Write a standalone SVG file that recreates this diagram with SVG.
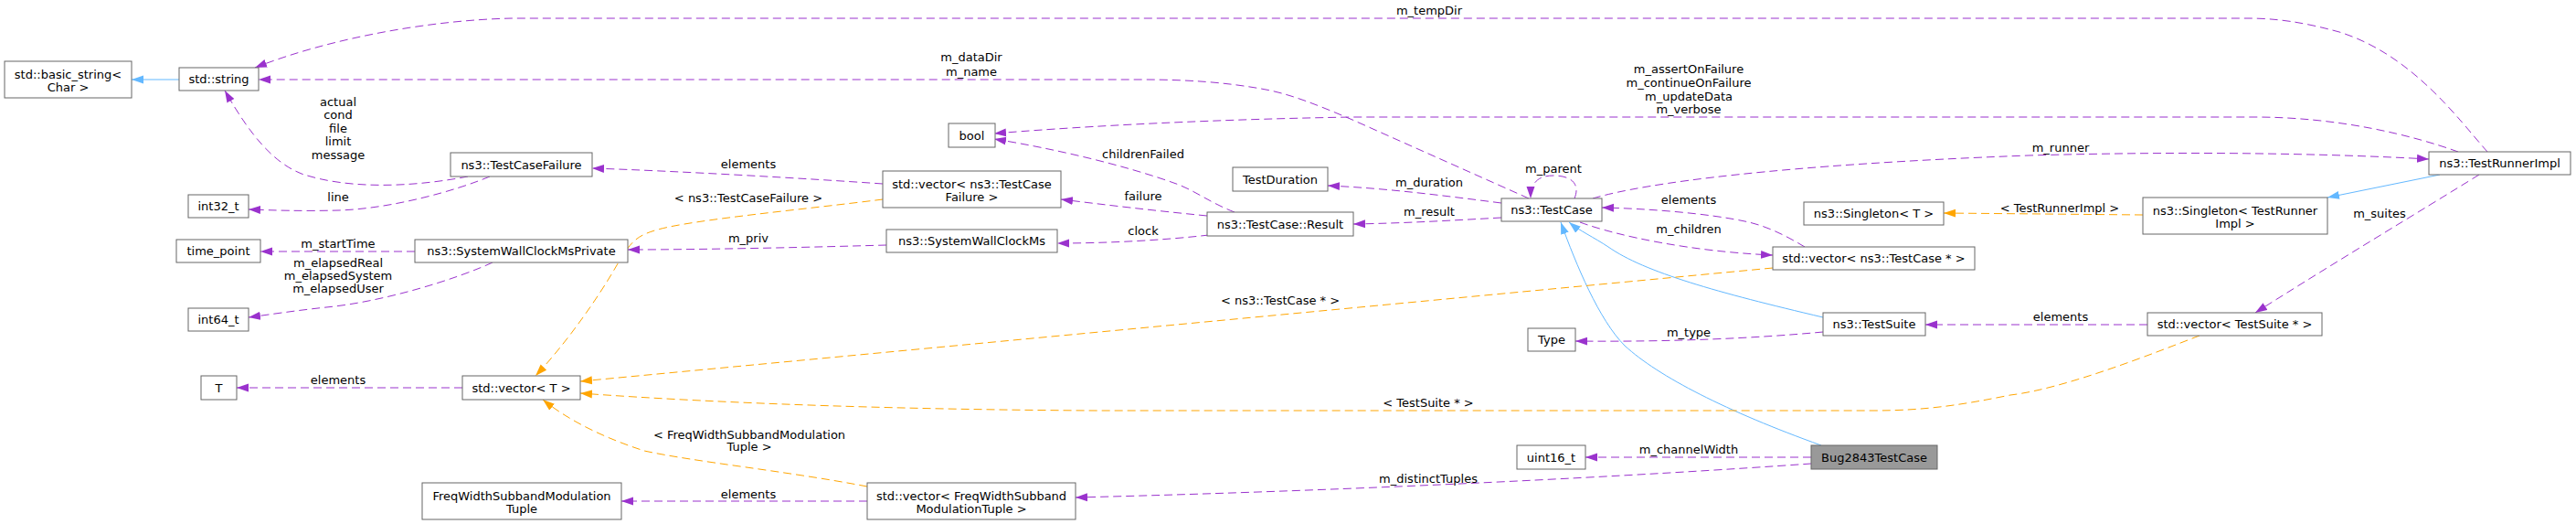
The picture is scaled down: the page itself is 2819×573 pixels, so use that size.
<svg xmlns="http://www.w3.org/2000/svg" width="2819" height="573" viewBox="0 0 2819 573">
<style>
text{font-family:"DejaVu Sans","Liberation Sans",sans-serif;font-size:13px;fill:#000;text-anchor:middle}
.node rect{fill:#fff;stroke:#666;stroke-width:1}
.node.root rect{fill:#999;stroke:#666}
.e{fill:none;stroke-width:1}
.p{stroke:#9a32cd;stroke-dasharray:9,5;marker-end:url(#ap)}
.o{stroke:#ffa500;stroke-dasharray:9,5;marker-end:url(#ao)}
.b{stroke:#63b8ff;marker-end:url(#ab)}
</style>
<defs>
<marker id="ap" viewBox="0 0 13 10" refX="13" refY="5" markerWidth="13" markerHeight="10" markerUnits="userSpaceOnUse" orient="auto"><path d="M0,0.5L13,5L0,9.5z" fill="#9a32cd"/></marker>
<marker id="ao" viewBox="0 0 13 10" refX="13" refY="5" markerWidth="13" markerHeight="10" markerUnits="userSpaceOnUse" orient="auto"><path d="M0,0.5L13,5L0,9.5z" fill="#ffa500"/></marker>
<marker id="ab" viewBox="0 0 13 10" refX="13" refY="5" markerWidth="13" markerHeight="10" markerUnits="userSpaceOnUse" orient="auto"><path d="M0,0.5L13,5L0,9.5z" fill="#63b8ff"/></marker>
</defs>
<rect width="2819" height="573" fill="#fff"/>
<g id="edges">
<path class="e b" d="M196,87L144,87"/>
<path class="e p" d="M2722,166C2690,130 2640,60 2560,35C2520,24 2490,20 2460,20L560,20C470,22 360,42 279,74"/>
<text x="1564" y="16">m_tempDir</text>
<path class="e p" d="M1673,217L1480,131C1440,114 1410,102 1380,97C1340,90 1300,87 1250,87L283,87"/>
<text x="1063" y="67">m_dataDir</text><text x="1063" y="83">m_name</text>
<path class="e p" d="M512,193C450,205 380,207 330,190C300,178 275,150 246,99"/>
<text x="370" y="115.5">actual</text><text x="370" y="130">cond</text><text x="370" y="144.5">file</text><text x="370" y="159">limit</text><text x="370" y="173.5">message</text>
<path class="e p" d="M536,193C500,208 430,228 371,230C330,231 300,230 272,229"/>
<text x="370" y="219.5">line</text>
<path class="e p" d="M454,275L285,275"/>
<text x="370" y="271">m_startTime</text>
<path class="e p" d="M539,287C500,305 420,330 357,336C320,340 295,344 272,347"/>
<text x="370" y="291.5">m_elapsedReal</text><text x="370" y="305.5">m_elapsedSystem</text><text x="370" y="319.5">m_elapsedUser</text>
<path class="e p" d="M506,424L259,424"/>
<text x="370" y="420">elements</text>
<path class="e p" d="M966,201C880,195 740,187 648,184"/>
<text x="819" y="183.5">elements</text>
<path class="e o" d="M966,218C880,229 760,240 720,251C695,258 690,265 675,290C655,325 620,375 586,411"/>
<text x="819" y="220.5">&lt; ns3::TestCaseFailure &gt;</text>
<path class="e p" d="M970,268C900,270 780,273 687,273"/>
<text x="819" y="265">m_priv</text>
<path class="e p" d="M1351,232C1325,222 1310,210 1290,202C1230,180 1150,162 1088,152"/>
<text x="1251" y="172.5">childrenFailed</text>
<path class="e p" d="M2690,166C2640,148 2560,128 2467,128L1480,128C1300,131 1160,140 1088,146"/>
<text x="1848" y="80">m_assertOnFailure</text><text x="1848" y="95">m_continueOnFailure</text><text x="1848" y="109.5">m_updateData</text><text x="1848" y="124">m_verbose</text>
<path class="e p" d="M1321,236C1260,230 1210,224 1161,218"/>
<text x="1251" y="218.5">failure</text>
<path class="e p" d="M1323,257C1270,263 1210,266 1157,266"/>
<text x="1251" y="256.5">clock</text>
<path class="e p" d="M1643,222C1580,214 1520,206 1453,203"/>
<text x="1564" y="203.5">m_duration</text>
<path class="e p" d="M1643,238C1590,241 1540,244 1481,245"/>
<text x="1564" y="235.5">m_result</text>
<path class="e p" d="M1723,217C1730,200 1718,192 1700,192C1683,192 1675,200 1675,217"/>
<text x="1700" y="188.5">m_parent</text>
<path class="e p" d="M1743,217C1800,200 1950,180 2220,170C2400,165 2550,168 2658,174"/>
<text x="2255" y="165.5">m_runner</text>
<path class="e p" d="M1975,270C1955,258 1935,248 1914,243C1870,233 1800,228 1753,227"/>
<text x="1848" y="222.5">elements</text>
<path class="e p" d="M1729,243C1770,258 1850,275 1940,279"/>
<text x="1848" y="254.5">m_children</text>
<path class="e b" d="M1995,347C1880,320 1800,298 1760,270C1745,260 1728,252 1717,243"/>
<path class="e b" d="M1993,487C1890,450 1815,412 1778,378C1750,350 1725,290 1708,243"/>
<path class="e o" d="M2345,235L2127,233"/>
<text x="2254" y="231.5">&lt; TestRunnerImpl &gt;</text>
<path class="e b" d="M2670,191L2547,216"/>
<path class="e p" d="M2713,191C2650,230 2550,290 2468,342"/>
<text x="2604" y="237.5">m_suites</text>
<path class="e p" d="M2350,355L2107,355"/>
<text x="2255" y="351">elements</text>
<path class="e p" d="M1995,363C1920,370 1830,374 1724,373"/>
<text x="1848" y="367.5">m_type</text>
<path class="e o" d="M1940,293L635,417"/>
<text x="1401" y="332.5">&lt; ns3::TestCase * &gt;</text>
<path class="e o" d="M2407,367C2360,385 2260,425 2200,432C2150,442 2110,449 2050,449L1200,449C1000,448 800,442 635,430"/>
<text x="1563" y="444.5">&lt; TestSuite * &gt;</text>
<path class="e o" d="M949,532C860,515 760,505 705,493C665,480 625,462 594,437"/>
<text x="820" y="479.5">&lt; FreqWidthSubbandModulation</text><text x="820" y="493">Tuple &gt;</text>
<path class="e p" d="M949,548L680,548"/>
<text x="819" y="544.5">elements</text>
<path class="e p" d="M1982,507C1800,520 1500,536 1177,544"/>
<text x="1563" y="527.5">m_distinctTuples</text>
<path class="e p" d="M1982,500L1735,500"/>
<text x="1848" y="495.5">m_channelWidth</text>
</g>
<g id="n_basic_string" class="node"><rect x="5" y="67" width="139" height="40"/><text x="74.5" y="85.5">std::basic_string&lt;</text><text x="74.5" y="99.5">Char &gt;</text></g>
<g id="n_string" class="node"><rect x="196" y="74" width="87" height="25"/><text x="239.5" y="91">std::string</text></g>
<g id="n_int32" class="node"><rect x="206" y="213" width="66" height="25"/><text x="239" y="230">int32_t</text></g>
<g id="n_time_point" class="node"><rect x="193" y="262" width="92" height="25"/><text x="239" y="279">time_point</text></g>
<g id="n_int64" class="node"><rect x="206" y="337" width="66" height="25"/><text x="239" y="354">int64_t</text></g>
<g id="n_T" class="node"><rect x="220" y="411" width="39" height="26"/><text x="239.5" y="428.5">T</text></g>
<g id="n_freq_tuple" class="node"><rect x="462" y="528" width="218" height="40"/><text x="571" y="546.5">FreqWidthSubbandModulation</text><text x="571" y="560.5">Tuple</text></g>
<g id="n_vector_T" class="node"><rect x="506" y="411" width="129" height="26"/><text x="570.5" y="428.5">std::vector&lt; T &gt;</text></g>
<g id="n_vector_freq" class="node"><rect x="949" y="528" width="228" height="40"/><text x="1063" y="546.5">std::vector&lt; FreqWidthSubband</text><text x="1063" y="560.5">ModulationTuple &gt;</text></g>
<g id="n_testcasefailure" class="node"><rect x="493" y="167" width="155" height="26"/><text x="570.5" y="184.5">ns3::TestCaseFailure</text></g>
<g id="n_swcm_private" class="node"><rect x="454" y="262" width="233" height="25"/><text x="570.5" y="279">ns3::SystemWallClockMsPrivate</text></g>
<g id="n_bool" class="node"><rect x="1038" y="135" width="51" height="26"/><text x="1063.5" y="152.5">bool</text></g>
<g id="n_vector_tcf" class="node"><rect x="966" y="187" width="195" height="40"/><text x="1063.5" y="205.5">std::vector&lt; ns3::TestCase</text><text x="1063.5" y="219.5">Failure &gt;</text></g>
<g id="n_swcm" class="node"><rect x="970" y="251" width="187" height="25"/><text x="1063.5" y="268">ns3::SystemWallClockMs</text></g>
<g id="n_result" class="node"><rect x="1321" y="232" width="160" height="26"/><text x="1401" y="249.5">ns3::TestCase::Result</text></g>
<g id="n_duration" class="node"><rect x="1349" y="183" width="104" height="26"/><text x="1401" y="200.5">TestDuration</text></g>
<g id="n_testcase" class="node"><rect x="1643" y="217" width="110" height="25"/><text x="1698" y="234">ns3::TestCase</text></g>
<g id="n_type" class="node"><rect x="1672" y="359" width="52" height="25"/><text x="1698" y="376">Type</text></g>
<g id="n_uint16" class="node"><rect x="1660" y="487" width="75" height="26"/><text x="1697.5" y="504.5">uint16_t</text></g>
<g id="n_vector_tc" class="node"><rect x="1940" y="270" width="221" height="25"/><text x="2050.5" y="287">std::vector&lt; ns3::TestCase * &gt;</text></g>
<g id="n_testsuite" class="node"><rect x="1995" y="342" width="112" height="25"/><text x="2051" y="359">ns3::TestSuite</text></g>
<g id="n_bug2843" class="node root"><rect x="1982" y="487" width="138" height="26"/><text x="2051" y="504.5">Bug2843TestCase</text></g>
<g id="n_singleton_T" class="node"><rect x="1974" y="221" width="153" height="25"/><text x="2050.5" y="238">ns3::Singleton&lt; T &gt;</text></g>
<g id="n_singleton_tr" class="node"><rect x="2345" y="216" width="202" height="40"/><text x="2446" y="234.5">ns3::Singleton&lt; TestRunner</text><text x="2446" y="248.5">Impl &gt;</text></g>
<g id="n_runner" class="node"><rect x="2658" y="166" width="155" height="25"/><text x="2735.5" y="183">ns3::TestRunnerImpl</text></g>
<g id="n_vector_suite" class="node"><rect x="2350" y="342" width="191" height="25"/><text x="2445.5" y="359">std::vector&lt; TestSuite * &gt;</text></g>
</svg>
